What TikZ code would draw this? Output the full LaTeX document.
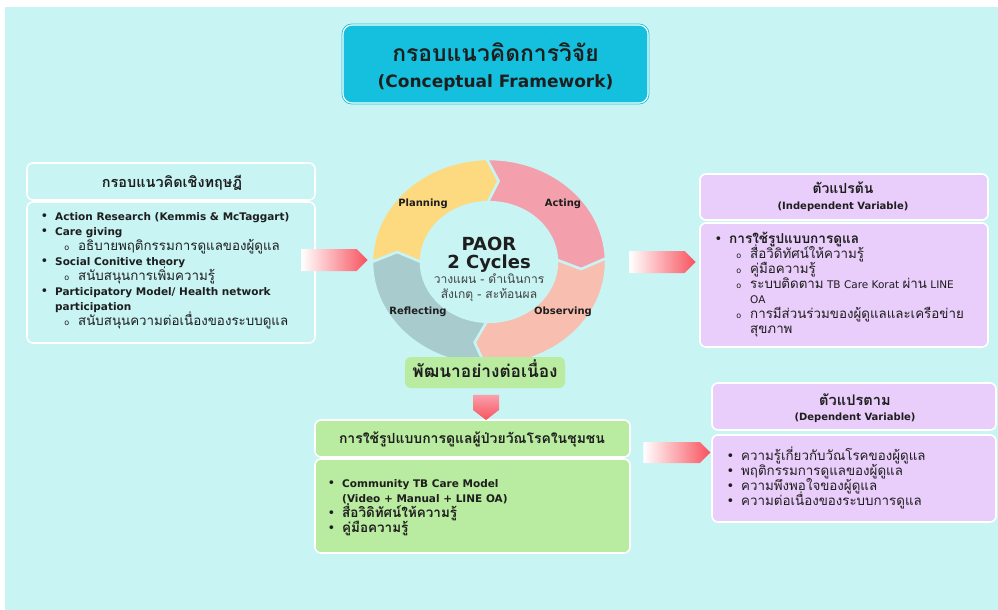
\documentclass[tikz,border=0pt]{standalone}
\usepackage{fontspec}
\usepackage{xcolor}
\usepackage{tikz}
\usetikzlibrary{positioning}
\usetikzlibrary{shapes.arrows}
\setmainfont{DejaVu Sans}
\newfontfamily\thaifont[Script=Thai,Scale=1.27]{Loma}
\definecolor{bgcyan}{RGB}{200,244,244}
\definecolor{titlecyan}{RGB}{20,192,222}
\definecolor{lavender}{RGB}{233,205,250}
\definecolor{leafgreen}{RGB}{185,235,160}
\definecolor{arrowred}{RGB}{248,82,94}
\definecolor{arrowpink}{RGB}{250,160,170}
\definecolor{planyel}{RGB}{253,218,128}
\definecolor{actpink}{RGB}{243,160,172}
\definecolor{obspink}{RGB}{248,190,175}
\definecolor{refgray}{RGB}{168,204,206}
\definecolor{ink}{RGB}{30,30,30}
\newcommand{\thaitxt}[1]{{\thaifont #1}}
\newcommand{\thaibf}[1]{{\thaifont\bfseries #1}}
\newcommand{\bul}{\llap{{\fontsize{13}{13}\selectfont\textbullet}\hspace{7pt}}}
\newcommand{\subbul}{\llap{{\fontsize{8}{8}\selectfont o}\hspace{9pt}}}

\begin{document}
\begin{tikzpicture}[x=1pt, y=-1pt, text=ink, font=\fontsize{10.5}{12}\selectfont]
  \tikzstyle{box}=[draw=white, line width=1.6pt, rounded corners=6pt, inner sep=0pt]
  \tikzstyle{listline}=[anchor=base west, inner sep=0pt]
  \tikzstyle{headtext}=[anchor=base, inner sep=0pt]
  \tikzstyle{fat}=[single arrow, single arrow head extend=0pt, inner sep=0pt, draw=none]
  \tikzstyle{cyc}=[anchor=base, inner sep=0pt, font=\fontsize{10}{11}\selectfont\bfseries]
\useasboundingbox (0,0) rectangle (998,610);
\fill[bgcyan] (5,7) rectangle (998,610);

% title
\node[box, draw=titlecyan, double=white, double distance=1.2pt, line width=0.8pt,
      fill=titlecyan, rounded corners=9pt, minimum width=305, minimum height=78] (title) at (495.5,64) {};
\node[headtext, font=\fontsize{18}{18}\selectfont] (titleth) at (495.5,62) {\thaibf{กรอบแนวคิดการวิจัย}};
\node[headtext, font=\fontsize{17}{17}\selectfont\bfseries] (titleen) at (495.5,87) {(Conceptual Framework)};

% PAOR ring
\begin{scope}[shift={(489,262)}, y=0.88pt]
  \foreach \s/\e/\col in {180/91/planyel, 91/2/actpink, 2/-92/obspink, -92/-180/refgray}
    \filldraw[fill=\col, draw=bgcyan, line width=2.5pt, line join=round]
      (\s:117) arc[start angle=\s, end angle=\e, radius=117] -- ({\e-7}:92.5)
      -- (\e:68) arc[start angle=\e, end angle=\s, radius=68] -- ({\s-7}:92.5) -- cycle;
\end{scope}
\node[cyc] (plan) at (423,206) {Planning};
\node[cyc] (act) at (563,206) {Acting};
\node[cyc] (obs) at (563,314) {Observing};
\node[cyc] (refl) at (418,314) {Reflecting};
\node[headtext, font=\fontsize{18}{18}\selectfont\bfseries] (paor) at (489,250) {PAOR};
\node[headtext, font=\fontsize{18}{18}\selectfont\bfseries] (cycles) at (489,268) {2 Cycles};
\node[headtext, font=\fontsize{9.5}{10}\selectfont, text=ink!85] (plando) at (489,283) {\thaitxt{วางแผน - ดำเนินการ}};
\node[headtext, font=\fontsize{9.5}{10}\selectfont, text=ink!85] (obsref) at (489,298) {\thaitxt{สังเกตุ - สะท้อนผล}};

\node[box, fill=leafgreen, draw=none, minimum width=160, minimum height=31] (develop) at (485,372.5) {};
\node[headtext, font=\fontsize{13.6}{14}\selectfont] (developtxt) at (485,377) {\thaibf{พัฒนาอย่างต่อเนื่อง}};

% theory
\node[box, fill=bgcyan, minimum width=288, minimum height=37] (theoryhd) at (171,181.5) {};
\node[box, fill=bgcyan, minimum width=288, minimum height=141] (theorybody) at (171,272.5) {};
\node[headtext, font=\fontsize{11.4}{12}\selectfont] (theorytitle) at (172,187) {\thaibf{กรอบแนวคิดเชิงทฤษฎี}};
\foreach \px/\txt [count=\i] in {
    55/{\bul\textbf{Action Research (Kemmis \& McTaggart)}},
    55/{\bul\textbf{Care giving}},
    78/{\subbul\thaitxt{อธิบายพฤติกรรมการดูแลของผู้ดูแล}},
    55/{\bul\textbf{Social Conitive theory}},
    78/{\subbul\thaitxt{สนับสนุนการเพิ่มความรู้}},
    55/{\bul\textbf{Participatory Model/ Health network}},
    55/{\textbf{participation}},
    78/{\subbul\thaitxt{สนับสนุนความต่อเนื่องของระบบดูแล}}}
  \node[listline] (theory\i) at (\px,{220+15.1*(\i-1)}) {\txt};

% independent variable
\node[box, fill=lavender, minimum width=288, minimum height=46] (ivhd) at (844,197) {};
\node[box, fill=lavender, minimum width=288, minimum height=124] (ivbody) at (844,285) {};
\node[headtext, font=\fontsize{11}{11}\selectfont] (ivth) at (843,193) {\thaibf{ตัวแปรต้น}};
\node[headtext, font=\fontsize{10}{10}\selectfont\bfseries] (iven) at (843,209) {(Independent Variable)};
\foreach \px/\txt [count=\i] in {
    729/{\bul\fontsize{10.7}{12}\selectfont\thaibf{การใช้รูปแบบการดูแล}},
    750/{\subbul\thaitxt{สื่อวิดิทัศน์ให้ความรู้}},
    750/{\subbul\thaitxt{คู่มือความรู้}},
    750/{\subbul\thaitxt{ระบบติดตาม} TB Care Korat \thaitxt{ผ่าน} LINE},
    750/{OA},
    750/{\subbul\thaitxt{การมีส่วนร่วมของผู้ดูแลและเครือข่าย}},
    750/{\thaitxt{สุขภาพ}}}
  \node[listline] (iv\i) at (\px,{243+15*(\i-1)}) {\txt};

% intervention
\node[box, fill=leafgreen, minimum width=315, minimum height=37] (carehd) at (472.5,438.5) {};
\node[box, fill=leafgreen, minimum width=315, minimum height=94] (carebody) at (472.5,506) {};
\node[headtext, font=\fontsize{11}{11}\selectfont] (caretitle) at (472,443) {\thaibf{การใช้รูปแบบการดูแลผู้ป่วยวัณโรคในชุมชน}};
\foreach \px/\txt [count=\i] in {
    342/{\bul\textbf{Community TB Care Model}},
    342/{\textbf{(Video + Manual + LINE OA)}},
    342/{\bul\fontsize{10.6}{12}\selectfont\thaibf{สื่อวิดิทัศน์ให้ความรู้}},
    342/{\bul\fontsize{10.6}{12}\selectfont\thaibf{คู่มือความรู้}}}
  \node[listline] (care\i) at (\px,{487+15*(\i-1)}) {\txt};

% dependent variable
\node[box, fill=lavender, minimum width=284, minimum height=47] (dvhd) at (854,406.5) {};
\node[box, fill=lavender, minimum width=284, minimum height=87] (dvbody) at (854,478.5) {};
\node[headtext, font=\fontsize{11.5}{12}\selectfont] (dvth) at (855,405) {\thaibf{ตัวแปรตาม}};
\node[headtext, font=\fontsize{10}{10}\selectfont\bfseries] (dven) at (855,420) {(Dependent Variable)};
\foreach \px/\txt [count=\i] in {
    741/{\bul\thaitxt{ความรู้เกี่ยวกับวัณโรคของผู้ดูแล}},
    741/{\bul\thaitxt{พฤติกรรมการดูแลของผู้ดูแล}},
    741/{\bul\thaitxt{ความพึงพอใจของผู้ดูแล}},
    741/{\bul\thaitxt{ความต่อเนื่องของระบบการดูแล}}}
  \node[listline] (dv\i) at (\px,{460+15*(\i-1)}) {\txt};

% arrows
\node[fat, left color=white, right color=arrowred, minimum width=22, minimum height=66] (toring) at (329,260) {};
\node[fat, left color=white, right color=arrowred, minimum width=22, minimum height=66] (toiv) at (657,262) {};
\node[fat, left color=white, right color=arrowred, minimum width=21, minimum height=67] (todv) at (671.5,452.5) {};
\node[fat, shape border rotate=270, single arrow tip angle=105, top color=arrowpink, bottom color=arrowred,
      minimum width=26, minimum height=25] (tocare) at (486,402.5) {};
\end{tikzpicture}
\end{document}
